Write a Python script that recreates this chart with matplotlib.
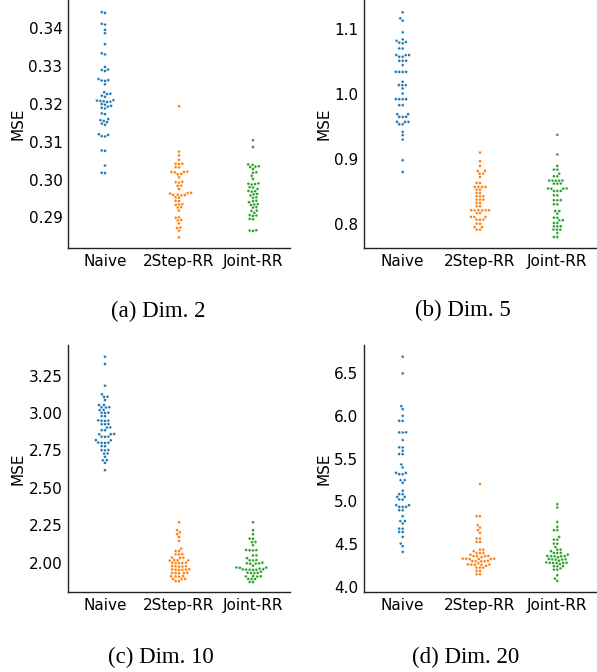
import matplotlib
matplotlib.use('Agg')
import matplotlib.pyplot as plt
import pandas as pd
import seaborn as sns

methods = ['Naive', '2Step-RR', 'Joint-RR']
palette = ['#1f77b4', '#ff7f0e', '#2ca02c']

# Dim. 2
naive_d2 = [0.3443, 0.3441, 0.3412, 0.3410, 0.3396, 0.3387, 0.3358, 0.3334, 0.3331,
            0.3298, 0.3291, 0.3290, 0.3287, 0.3266, 0.3263, 0.3261, 0.3262, 0.3252,
            0.3231, 0.3227, 0.3226, 0.3222, 0.3219, 0.3210, 0.3209, 0.3208, 0.3207,
            0.3206, 0.3205, 0.3200, 0.3198, 0.3195, 0.3193, 0.3190, 0.3188, 0.3175,
            0.3173, 0.3160, 0.3157, 0.3155, 0.3152, 0.3148, 0.3145, 0.3120, 0.3118,
            0.3115, 0.3114, 0.3077, 0.3076, 0.3037, 0.3018, 0.3017]
step_d2 = [0.3194, 0.3074, 0.3064, 0.3052, 0.3042, 0.3042, 0.3041, 0.3033, 0.3032,
           0.3020, 0.3020, 0.3019, 0.3021, 0.3015, 0.3014, 0.3006, 0.2993, 0.2994,
           0.2992, 0.2984, 0.2983, 0.2975, 0.2964, 0.2965, 0.2963, 0.2959, 0.2960,
           0.2958, 0.2959, 0.2953, 0.2952, 0.2944, 0.2943, 0.2934, 0.2935, 0.2933,
           0.2927, 0.2926, 0.2918, 0.2900, 0.2899, 0.2893, 0.2892, 0.2884, 0.2873,
           0.2872, 0.2865, 0.2847]
joint_d2 = [0.3104, 0.3086, 0.3040, 0.3039, 0.3034, 0.3035, 0.3033, 0.3028, 0.3019,
            0.3018, 0.3010, 0.3002, 0.2990, 0.2988, 0.2989, 0.2987, 0.2980, 0.2979,
            0.2975, 0.2969, 0.2970, 0.2968, 0.2962, 0.2961, 0.2958, 0.2953, 0.2952,
            0.2944, 0.2943, 0.2940, 0.2934, 0.2935, 0.2933, 0.2927, 0.2926, 0.2918,
            0.2917, 0.2912, 0.2905, 0.2906, 0.2904, 0.2896, 0.2895, 0.2865, 0.2866,
            0.2864]

# Dim. 5
naive_d5 = [1.1257, 1.1165, 1.1129, 1.0949, 1.0840, 1.0820, 1.0800, 1.0790, 1.0780,
            1.0701, 1.0700, 1.0599, 1.0600, 1.0598, 1.0573, 1.0572, 1.0511, 1.0512,
            1.0510, 1.0444, 1.0340, 1.0341, 1.0339, 1.0338, 1.0187, 1.0135, 1.0136,
            1.0134, 1.0084, 1.0005, 0.9919, 0.9920, 0.9918, 0.9917, 0.9827, 0.9826,
            0.9688, 0.9687, 0.9646, 0.9647, 0.9645, 0.9569, 0.9570, 0.9568, 0.9533,
            0.9532, 0.9415, 0.9363, 0.9296, 0.8977, 0.8797]
step_d5 = [0.9096, 0.8962, 0.8890, 0.8813, 0.8812, 0.8771, 0.8770, 0.8720, 0.8627,
           0.8626, 0.8566, 0.8567, 0.8565, 0.8564, 0.8524, 0.8523, 0.8473, 0.8472,
           0.8421, 0.8422, 0.8420, 0.8370, 0.8371, 0.8369, 0.8319, 0.8318, 0.8267,
           0.8266, 0.8205, 0.8206, 0.8204, 0.8207, 0.8203, 0.8205, 0.8164, 0.8163,
           0.8102, 0.8103, 0.8101, 0.8061, 0.8062, 0.8060, 0.8000, 0.7999, 0.7948,
           0.7947, 0.7907, 0.7906]
joint_d5 = [0.9369, 0.9065, 0.8890, 0.8833, 0.8832, 0.8771, 0.8730, 0.8729, 0.8663,
            0.8664, 0.8662, 0.8665, 0.8661, 0.8617, 0.8618, 0.8616, 0.8540, 0.8541,
            0.8539, 0.8542, 0.8504, 0.8505, 0.8503, 0.8437, 0.8436, 0.8360, 0.8361,
            0.8359, 0.8298, 0.8297, 0.8195, 0.8194, 0.8154, 0.8092, 0.8091, 0.8051,
            0.8050, 0.8010, 0.8009, 0.7958, 0.7959, 0.7957, 0.7907, 0.7908, 0.7906,
            0.7856, 0.7794, 0.7793]

# Dim. 10
naive_d10 = [3.377, 3.328, 3.183, 3.125, 3.109, 3.108, 3.087, 3.054, 3.053, 3.038,
             3.039, 3.037, 3.020, 3.021, 3.002, 3.003, 3.001, 2.980, 2.979, 2.949,
             2.950, 2.948, 2.951, 2.926, 2.927, 2.925, 2.904, 2.903, 2.886, 2.885,
             2.859, 2.860, 2.858, 2.842, 2.843, 2.841, 2.819, 2.818, 2.801, 2.802,
             2.800, 2.803, 2.779, 2.778, 2.752, 2.753, 2.751, 2.730, 2.729, 2.708,
             2.685, 2.684, 2.667, 2.618]
step_d10 = [2.270, 2.217, 2.203, 2.190, 2.172, 2.145, 2.094, 2.078, 2.077, 2.056,
            2.057, 2.055, 2.033, 2.034, 2.032, 2.016, 2.017, 2.015, 2.014, 1.998,
            1.999, 1.997, 2.000, 1.996, 1.975, 1.976, 1.974, 1.977, 1.973, 1.953,
            1.954, 1.952, 1.955, 1.951, 1.956, 1.931, 1.932, 1.930, 1.933, 1.929,
            1.908, 1.909, 1.907, 1.910, 1.891, 1.892, 1.890, 1.877, 1.876]
joint_d10 = [2.270, 2.217, 2.190, 2.161, 2.160, 2.138, 2.137, 2.116, 2.083, 2.084,
             2.082, 2.085, 2.049, 2.048, 2.030, 2.016, 2.017, 2.015, 2.000, 1.994,
             1.995, 1.993, 1.996, 1.980, 1.967, 1.968, 1.966, 1.960, 1.953, 1.954,
             1.952, 1.955, 1.951, 1.956, 1.940, 1.931, 1.932, 1.930, 1.933, 1.908,
             1.909, 1.907, 1.910, 1.891, 1.892, 1.890, 1.871, 1.870]

# Dim. 20
naive_d20 = [6.687, 6.492, 6.111, 6.076, 5.998, 5.940, 5.939, 5.804, 5.805, 5.803,
             5.715, 5.629, 5.630, 5.590, 5.551, 5.552, 5.431, 5.396, 5.334, 5.333,
             5.318, 5.317, 5.248, 5.247, 5.217, 5.124, 5.085, 5.084, 5.054, 5.053,
             5.023, 5.022, 4.957, 4.956, 4.937, 4.938, 4.936, 4.898, 4.897, 4.828,
             4.772, 4.771, 4.743, 4.684, 4.683, 4.645, 4.644, 4.587, 4.509, 4.478,
             4.412]
step_d20 = [5.201, 4.828, 4.827, 4.723, 4.696, 4.665, 4.634, 4.568, 4.567, 4.529,
            4.528, 4.439, 4.438, 4.420, 4.400, 4.401, 4.399, 4.380, 4.362, 4.363,
            4.361, 4.364, 4.350, 4.331, 4.332, 4.330, 4.333, 4.329, 4.334, 4.310,
            4.303, 4.304, 4.302, 4.305, 4.280, 4.264, 4.265, 4.263, 4.266, 4.262,
            4.250, 4.229, 4.230, 4.228, 4.191, 4.190, 4.152, 4.151]
joint_d20 = [4.968, 4.929, 4.762, 4.704, 4.665, 4.664, 4.587, 4.556, 4.555, 4.509,
             4.508, 4.470, 4.439, 4.438, 4.420, 4.400, 4.401, 4.399, 4.380, 4.362,
             4.363, 4.361, 4.364, 4.360, 4.350, 4.330, 4.323, 4.324, 4.322, 4.325,
             4.310, 4.290, 4.284, 4.285, 4.283, 4.286, 4.282, 4.270, 4.245, 4.246,
             4.244, 4.220, 4.206, 4.205, 4.140, 4.101, 4.074]

sns.set_style('white')
plt.rcParams['font.family'] = ['DejaVu Sans']
for k in ['text.color', 'axes.labelcolor', 'xtick.color', 'ytick.color']:
    plt.rcParams[k] = 'black'

fig = plt.figure(figsize=(5.97, 6.72), dpi=100)
W, H = 597.0, 672.0


def panel(box, groups, ylim, yticks, yfmt, caption, cap_xy):
    left, top, right, bottom = box
    ax = fig.add_axes([left / W, 1 - bottom / H, (right - left) / W, (bottom - top) / H])
    vals, labs = [], []
    for m, g in zip(methods, groups):
        vals += g
        labs += [m] * len(g)
    df = pd.DataFrame({'method': labs, 'MSE': vals})
    sns.swarmplot(data=df, x='method', y='MSE', hue='method', order=methods,
                  palette=palette, size=2.1, linewidth=0.25, edgecolor='white',
                  legend=False, ax=ax)
    ax.set_xlim(-0.5, 2.5)
    ax.set_ylim(*ylim)
    ax.set_yticks(yticks)
    ax.set_yticklabels([yfmt.format(t) for t in yticks])
    ax.set_xlabel('')
    ax.set_ylabel('MSE', fontsize=11, labelpad=2)
    ax.tick_params(length=0, labelsize=11, pad=4)
    for s in ['top', 'right']:
        ax.spines[s].set_visible(False)
    for s in ['left', 'bottom']:
        ax.spines[s].set_color('#222222')
        ax.spines[s].set_linewidth(1.0)
    fig.text(cap_xy[0] / W, 1 - cap_xy[1] / H, caption, ha='center', va='center',
             fontsize=16.5, color='black', family=['Liberation Serif', 'DejaVu Serif'])
    return ax


panel((68, 0, 290, 248), [naive_d2, step_d2, joint_d2], (0.2819, 0.3475),
      [0.29, 0.30, 0.31, 0.32, 0.33, 0.34], '{:.2f}', '(a) Dim. 2', (158, 311))
panel((364, 0, 596, 248), [naive_d5, step_d5, joint_d5], (0.7624, 1.1448),
      [0.8, 0.9, 1.0, 1.1], '{:.1f}', '(b) Dim. 5', (463, 310))
panel((68, 345, 290, 592), [naive_d10, step_d10, joint_d10], (1.804, 3.455),
      [2.00, 2.25, 2.50, 2.75, 3.00, 3.25], '{:.2f}', '(c) Dim. 10', (161, 657))
panel((364, 345, 596, 592), [naive_d20, step_d20, joint_d20], (3.945, 6.823),
      [4.0, 4.5, 5.0, 5.5, 6.0, 6.5], '{:.1f}', '(d) Dim. 20', (466, 657))

fig.savefig('out.png', dpi=100)
